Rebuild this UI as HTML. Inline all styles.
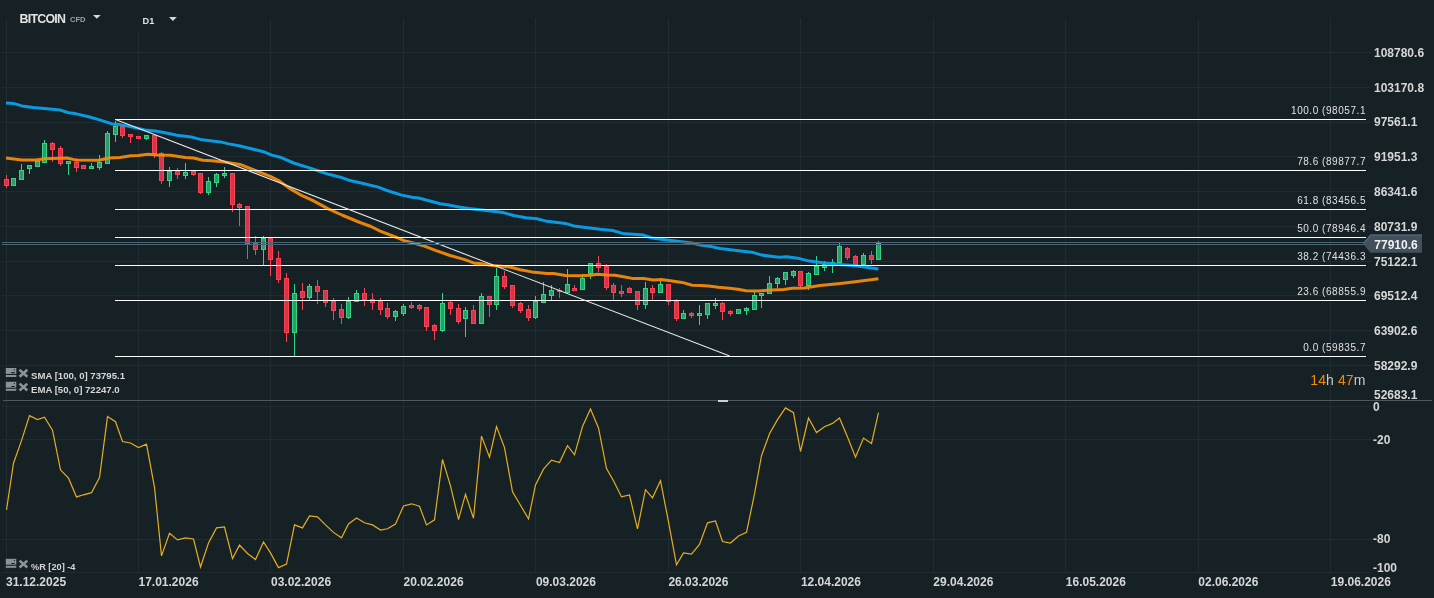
<!DOCTYPE html>
<html><head><meta charset="utf-8"><style>html,body{margin:0;padding:0;background:#162126;width:1434px;height:598px;overflow:hidden}</style></head>
<body><svg width="1434" height="598" viewBox="0 0 1434 598" style="display:block;will-change:transform"><rect x="0" y="0" width="1434" height="598" fill="#162126"/><rect x="6" y="18" width="1" height="554" fill="#212b31"/><rect x="138" y="32" width="1" height="540" fill="#212b31"/><rect x="270" y="18" width="1" height="554" fill="#212b31"/><rect x="403" y="18" width="1" height="554" fill="#212b31"/><rect x="535" y="18" width="1" height="554" fill="#212b31"/><rect x="668" y="18" width="1" height="554" fill="#212b31"/><rect x="800" y="18" width="1" height="554" fill="#212b31"/><rect x="933" y="18" width="1" height="554" fill="#212b31"/><rect x="1065" y="18" width="1" height="554" fill="#212b31"/><rect x="1198" y="18" width="1" height="554" fill="#212b31"/><rect x="1330" y="18" width="1" height="554" fill="#212b31"/><rect x="2" y="52" width="1370" height="1" fill="#212b31"/><rect x="2" y="87" width="1370" height="1" fill="#212b31"/><rect x="2" y="122" width="1370" height="1" fill="#212b31"/><rect x="2" y="156" width="1370" height="1" fill="#212b31"/><rect x="2" y="191" width="1370" height="1" fill="#212b31"/><rect x="2" y="226" width="1370" height="1" fill="#212b31"/><rect x="2" y="261" width="1370" height="1" fill="#212b31"/><rect x="2" y="295" width="1370" height="1" fill="#212b31"/><rect x="2" y="330" width="1370" height="1" fill="#212b31"/><rect x="2" y="365" width="1370" height="1" fill="#212b31"/><rect x="2" y="406" width="1370" height="1" fill="#212b31"/><rect x="2" y="439" width="1370" height="1" fill="#212b31"/><rect x="2" y="539" width="1370" height="1" fill="#212b31"/><rect x="2" y="572" width="1370" height="1" fill="#212b31"/><rect x="6" y="175" width="1" height="13" fill="#fc4153"/><rect x="4" y="179" width="5" height="7" fill="#fc4153"/><rect x="5" y="180" width="3" height="5" fill="#d5344a"/><rect x="13" y="178" width="1" height="8" fill="#34d486"/><rect x="11" y="178" width="5" height="8" fill="#34d486"/><rect x="12" y="179" width="3" height="6" fill="#2a9e66"/><rect x="21" y="164" width="1" height="16" fill="#34d486"/><rect x="19" y="170" width="5" height="10" fill="#34d486"/><rect x="20" y="171" width="3" height="8" fill="#2a9e66"/><rect x="29" y="165" width="1" height="9" fill="#34d486"/><rect x="27" y="165" width="5" height="4" fill="#34d486"/><rect x="28" y="166" width="3" height="2" fill="#2a9e66"/><rect x="37" y="161" width="1" height="6" fill="#34d486"/><rect x="35" y="161" width="5" height="6" fill="#34d486"/><rect x="36" y="162" width="3" height="4" fill="#2a9e66"/><rect x="44" y="140" width="1" height="23" fill="#34d486"/><rect x="42" y="143" width="5" height="20" fill="#34d486"/><rect x="43" y="144" width="3" height="18" fill="#2a9e66"/><rect x="52" y="142" width="1" height="20" fill="#fc4153"/><rect x="50" y="143" width="5" height="7" fill="#fc4153"/><rect x="51" y="144" width="3" height="5" fill="#d5344a"/><rect x="60" y="146" width="1" height="20" fill="#fc4153"/><rect x="58" y="148" width="5" height="16" fill="#fc4153"/><rect x="59" y="149" width="3" height="14" fill="#d5344a"/><rect x="68" y="161" width="1" height="14" fill="#34d486"/><rect x="66" y="161" width="5" height="3" fill="#34d486"/><rect x="67" y="162" width="3" height="1" fill="#2a9e66"/><rect x="76" y="158" width="1" height="14" fill="#fc4153"/><rect x="74" y="162" width="5" height="6" fill="#fc4153"/><rect x="75" y="163" width="3" height="4" fill="#d5344a"/><rect x="83" y="165" width="1" height="4" fill="#fc4153"/><rect x="81" y="165" width="5" height="4" fill="#fc4153"/><rect x="82" y="166" width="3" height="2" fill="#d5344a"/><rect x="91" y="163" width="1" height="6" fill="#34d486"/><rect x="89" y="166" width="5" height="3" fill="#34d486"/><rect x="90" y="167" width="3" height="1" fill="#2a9e66"/><rect x="99" y="155" width="1" height="15" fill="#34d486"/><rect x="97" y="162" width="5" height="6" fill="#34d486"/><rect x="98" y="163" width="3" height="4" fill="#2a9e66"/><rect x="107" y="131" width="1" height="33" fill="#34d486"/><rect x="105" y="133" width="5" height="31" fill="#34d486"/><rect x="106" y="134" width="3" height="29" fill="#2a9e66"/><rect x="115" y="121" width="1" height="21" fill="#34d486"/><rect x="113" y="126" width="5" height="9" fill="#34d486"/><rect x="114" y="127" width="3" height="7" fill="#2a9e66"/><rect x="122" y="126" width="1" height="12" fill="#fc4153"/><rect x="120" y="126" width="5" height="10" fill="#fc4153"/><rect x="121" y="127" width="3" height="8" fill="#d5344a"/><rect x="130" y="134" width="1" height="9" fill="#fc4153"/><rect x="128" y="134" width="5" height="3" fill="#fc4153"/><rect x="129" y="135" width="3" height="1" fill="#d5344a"/><rect x="138" y="136" width="1" height="3" fill="#fc4153"/><rect x="136" y="136" width="5" height="3" fill="#fc4153"/><rect x="137" y="137" width="3" height="1" fill="#d5344a"/><rect x="146" y="135" width="1" height="5" fill="#34d486"/><rect x="144" y="135" width="5" height="4" fill="#34d486"/><rect x="145" y="136" width="3" height="2" fill="#2a9e66"/><rect x="154" y="135" width="1" height="23" fill="#fc4153"/><rect x="152" y="135" width="5" height="19" fill="#fc4153"/><rect x="153" y="136" width="3" height="17" fill="#d5344a"/><rect x="161" y="152" width="1" height="32" fill="#fc4153"/><rect x="159" y="153" width="5" height="28" fill="#fc4153"/><rect x="160" y="154" width="3" height="26" fill="#d5344a"/><rect x="169" y="167" width="1" height="20" fill="#34d486"/><rect x="167" y="171" width="5" height="10" fill="#34d486"/><rect x="168" y="172" width="3" height="8" fill="#2a9e66"/><rect x="177" y="168" width="1" height="11" fill="#fc4153"/><rect x="175" y="171" width="5" height="4" fill="#fc4153"/><rect x="176" y="172" width="3" height="2" fill="#d5344a"/><rect x="185" y="163" width="1" height="16" fill="#34d486"/><rect x="183" y="172" width="5" height="4" fill="#34d486"/><rect x="184" y="173" width="3" height="2" fill="#2a9e66"/><rect x="193" y="171" width="1" height="5" fill="#fc4153"/><rect x="191" y="171" width="5" height="4" fill="#fc4153"/><rect x="192" y="172" width="3" height="2" fill="#d5344a"/><rect x="200" y="173" width="1" height="21" fill="#fc4153"/><rect x="198" y="173" width="5" height="20" fill="#fc4153"/><rect x="199" y="174" width="3" height="18" fill="#d5344a"/><rect x="208" y="177" width="1" height="18" fill="#34d486"/><rect x="206" y="181" width="5" height="12" fill="#34d486"/><rect x="207" y="182" width="3" height="10" fill="#2a9e66"/><rect x="216" y="173" width="1" height="14" fill="#34d486"/><rect x="214" y="174" width="5" height="9" fill="#34d486"/><rect x="215" y="175" width="3" height="7" fill="#2a9e66"/><rect x="224" y="167" width="1" height="11" fill="#34d486"/><rect x="222" y="173" width="5" height="3" fill="#34d486"/><rect x="223" y="174" width="3" height="1" fill="#2a9e66"/><rect x="232" y="173" width="1" height="39" fill="#fc4153"/><rect x="230" y="173" width="5" height="32" fill="#fc4153"/><rect x="231" y="174" width="3" height="30" fill="#d5344a"/><rect x="239" y="203" width="1" height="23" fill="#fc4153"/><rect x="237" y="204" width="5" height="4" fill="#fc4153"/><rect x="238" y="205" width="3" height="2" fill="#d5344a"/><rect x="247" y="206" width="1" height="53" fill="#fc4153"/><rect x="245" y="206" width="5" height="38" fill="#fc4153"/><rect x="246" y="207" width="3" height="36" fill="#d5344a"/><rect x="255" y="236" width="1" height="19" fill="#fc4153"/><rect x="253" y="243" width="5" height="7" fill="#fc4153"/><rect x="254" y="244" width="3" height="5" fill="#d5344a"/><rect x="263" y="236" width="1" height="29" fill="#34d486"/><rect x="261" y="238" width="5" height="12" fill="#34d486"/><rect x="262" y="239" width="3" height="10" fill="#2a9e66"/><rect x="270" y="238" width="1" height="38" fill="#fc4153"/><rect x="268" y="238" width="5" height="22" fill="#fc4153"/><rect x="269" y="239" width="3" height="20" fill="#d5344a"/><rect x="278" y="251" width="1" height="32" fill="#fc4153"/><rect x="276" y="258" width="5" height="22" fill="#fc4153"/><rect x="277" y="259" width="3" height="20" fill="#d5344a"/><rect x="286" y="273" width="1" height="69" fill="#fc4153"/><rect x="284" y="278" width="5" height="55" fill="#fc4153"/><rect x="285" y="279" width="3" height="53" fill="#d5344a"/><rect x="294" y="284" width="1" height="72" fill="#34d486"/><rect x="292" y="293" width="5" height="40" fill="#34d486"/><rect x="293" y="294" width="3" height="38" fill="#2a9e66"/><rect x="302" y="283" width="1" height="27" fill="#fc4153"/><rect x="300" y="291" width="5" height="7" fill="#fc4153"/><rect x="301" y="292" width="3" height="5" fill="#d5344a"/><rect x="309" y="284" width="1" height="16" fill="#34d486"/><rect x="307" y="286" width="5" height="12" fill="#34d486"/><rect x="308" y="287" width="3" height="10" fill="#2a9e66"/><rect x="317" y="280" width="1" height="24" fill="#fc4153"/><rect x="315" y="286" width="5" height="6" fill="#fc4153"/><rect x="316" y="287" width="3" height="4" fill="#d5344a"/><rect x="325" y="290" width="1" height="17" fill="#fc4153"/><rect x="323" y="290" width="5" height="13" fill="#fc4153"/><rect x="324" y="291" width="3" height="11" fill="#d5344a"/><rect x="333" y="298" width="1" height="22" fill="#fc4153"/><rect x="331" y="301" width="5" height="10" fill="#fc4153"/><rect x="332" y="302" width="3" height="8" fill="#d5344a"/><rect x="341" y="304" width="1" height="20" fill="#fc4153"/><rect x="339" y="309" width="5" height="9" fill="#fc4153"/><rect x="340" y="310" width="3" height="7" fill="#d5344a"/><rect x="348" y="297" width="1" height="22" fill="#34d486"/><rect x="346" y="301" width="5" height="17" fill="#34d486"/><rect x="347" y="302" width="3" height="15" fill="#2a9e66"/><rect x="356" y="290" width="1" height="12" fill="#34d486"/><rect x="354" y="293" width="5" height="9" fill="#34d486"/><rect x="355" y="294" width="3" height="7" fill="#2a9e66"/><rect x="364" y="288" width="1" height="18" fill="#fc4153"/><rect x="362" y="293" width="5" height="7" fill="#fc4153"/><rect x="363" y="294" width="3" height="5" fill="#d5344a"/><rect x="372" y="293" width="1" height="17" fill="#fc4153"/><rect x="370" y="299" width="5" height="4" fill="#fc4153"/><rect x="371" y="300" width="3" height="2" fill="#d5344a"/><rect x="380" y="298" width="1" height="17" fill="#fc4153"/><rect x="378" y="301" width="5" height="9" fill="#fc4153"/><rect x="379" y="302" width="3" height="7" fill="#d5344a"/><rect x="387" y="303" width="1" height="16" fill="#fc4153"/><rect x="385" y="308" width="5" height="9" fill="#fc4153"/><rect x="386" y="309" width="3" height="7" fill="#d5344a"/><rect x="395" y="310" width="1" height="11" fill="#34d486"/><rect x="393" y="311" width="5" height="6" fill="#34d486"/><rect x="394" y="312" width="3" height="4" fill="#2a9e66"/><rect x="403" y="304" width="1" height="12" fill="#34d486"/><rect x="401" y="306" width="5" height="8" fill="#34d486"/><rect x="402" y="307" width="3" height="6" fill="#2a9e66"/><rect x="411" y="302" width="1" height="7" fill="#fc4153"/><rect x="409" y="305" width="5" height="3" fill="#fc4153"/><rect x="410" y="306" width="3" height="1" fill="#d5344a"/><rect x="419" y="304" width="1" height="7" fill="#fc4153"/><rect x="417" y="305" width="5" height="4" fill="#fc4153"/><rect x="418" y="306" width="3" height="2" fill="#d5344a"/><rect x="426" y="307" width="1" height="24" fill="#fc4153"/><rect x="424" y="307" width="5" height="20" fill="#fc4153"/><rect x="425" y="308" width="3" height="18" fill="#d5344a"/><rect x="434" y="324" width="1" height="16" fill="#fc4153"/><rect x="432" y="325" width="5" height="6" fill="#fc4153"/><rect x="433" y="326" width="3" height="4" fill="#d5344a"/><rect x="442" y="293" width="1" height="39" fill="#34d486"/><rect x="440" y="303" width="5" height="28" fill="#34d486"/><rect x="441" y="304" width="3" height="26" fill="#2a9e66"/><rect x="450" y="301" width="1" height="14" fill="#fc4153"/><rect x="448" y="302" width="5" height="7" fill="#fc4153"/><rect x="449" y="303" width="3" height="5" fill="#d5344a"/><rect x="458" y="304" width="1" height="20" fill="#fc4153"/><rect x="456" y="308" width="5" height="14" fill="#fc4153"/><rect x="457" y="309" width="3" height="12" fill="#d5344a"/><rect x="465" y="307" width="1" height="30" fill="#34d486"/><rect x="463" y="310" width="5" height="9" fill="#34d486"/><rect x="464" y="311" width="3" height="7" fill="#2a9e66"/><rect x="473" y="305" width="1" height="19" fill="#fc4153"/><rect x="471" y="310" width="5" height="14" fill="#fc4153"/><rect x="472" y="311" width="3" height="12" fill="#d5344a"/><rect x="481" y="293" width="1" height="31" fill="#34d486"/><rect x="479" y="296" width="5" height="28" fill="#34d486"/><rect x="480" y="297" width="3" height="26" fill="#2a9e66"/><rect x="489" y="296" width="1" height="21" fill="#fc4153"/><rect x="487" y="296" width="5" height="9" fill="#fc4153"/><rect x="488" y="297" width="3" height="7" fill="#d5344a"/><rect x="496" y="268" width="1" height="42" fill="#34d486"/><rect x="494" y="276" width="5" height="29" fill="#34d486"/><rect x="495" y="277" width="3" height="27" fill="#2a9e66"/><rect x="504" y="271" width="1" height="18" fill="#fc4153"/><rect x="502" y="276" width="5" height="11" fill="#fc4153"/><rect x="503" y="277" width="3" height="9" fill="#d5344a"/><rect x="512" y="285" width="1" height="23" fill="#fc4153"/><rect x="510" y="285" width="5" height="21" fill="#fc4153"/><rect x="511" y="286" width="3" height="19" fill="#d5344a"/><rect x="520" y="302" width="1" height="11" fill="#fc4153"/><rect x="518" y="303" width="5" height="8" fill="#fc4153"/><rect x="519" y="304" width="3" height="6" fill="#d5344a"/><rect x="528" y="305" width="1" height="16" fill="#fc4153"/><rect x="526" y="309" width="5" height="9" fill="#fc4153"/><rect x="527" y="310" width="3" height="7" fill="#d5344a"/><rect x="535" y="296" width="1" height="23" fill="#34d486"/><rect x="533" y="301" width="5" height="17" fill="#34d486"/><rect x="534" y="302" width="3" height="15" fill="#2a9e66"/><rect x="543" y="282" width="1" height="21" fill="#34d486"/><rect x="541" y="294" width="5" height="9" fill="#34d486"/><rect x="542" y="295" width="3" height="7" fill="#2a9e66"/><rect x="551" y="285" width="1" height="15" fill="#34d486"/><rect x="549" y="290" width="5" height="6" fill="#34d486"/><rect x="550" y="291" width="3" height="4" fill="#2a9e66"/><rect x="559" y="288" width="1" height="10" fill="#fc4153"/><rect x="557" y="290" width="5" height="2" fill="#fc4153"/><rect x="567" y="269" width="1" height="24" fill="#34d486"/><rect x="565" y="284" width="5" height="9" fill="#34d486"/><rect x="566" y="285" width="3" height="7" fill="#2a9e66"/><rect x="574" y="285" width="1" height="6" fill="#fc4153"/><rect x="572" y="288" width="5" height="3" fill="#fc4153"/><rect x="573" y="289" width="3" height="1" fill="#d5344a"/><rect x="582" y="274" width="1" height="16" fill="#34d486"/><rect x="580" y="278" width="5" height="12" fill="#34d486"/><rect x="581" y="279" width="3" height="10" fill="#2a9e66"/><rect x="590" y="263" width="1" height="16" fill="#34d486"/><rect x="588" y="263" width="5" height="11" fill="#34d486"/><rect x="589" y="264" width="3" height="9" fill="#2a9e66"/><rect x="598" y="256" width="1" height="16" fill="#fc4153"/><rect x="596" y="263" width="5" height="5" fill="#fc4153"/><rect x="597" y="264" width="3" height="3" fill="#d5344a"/><rect x="606" y="264" width="1" height="26" fill="#fc4153"/><rect x="604" y="266" width="5" height="22" fill="#fc4153"/><rect x="605" y="267" width="3" height="20" fill="#d5344a"/><rect x="613" y="283" width="1" height="17" fill="#fc4153"/><rect x="611" y="285" width="5" height="8" fill="#fc4153"/><rect x="612" y="286" width="3" height="6" fill="#d5344a"/><rect x="621" y="285" width="1" height="12" fill="#fc4153"/><rect x="619" y="291" width="5" height="3" fill="#fc4153"/><rect x="620" y="292" width="3" height="1" fill="#d5344a"/><rect x="629" y="287" width="1" height="6" fill="#fc4153"/><rect x="627" y="288" width="5" height="5" fill="#fc4153"/><rect x="628" y="289" width="3" height="3" fill="#d5344a"/><rect x="637" y="291" width="1" height="19" fill="#fc4153"/><rect x="635" y="291" width="5" height="14" fill="#fc4153"/><rect x="636" y="292" width="3" height="12" fill="#d5344a"/><rect x="645" y="282" width="1" height="27" fill="#34d486"/><rect x="643" y="288" width="5" height="17" fill="#34d486"/><rect x="644" y="289" width="3" height="15" fill="#2a9e66"/><rect x="652" y="285" width="1" height="15" fill="#fc4153"/><rect x="650" y="288" width="5" height="5" fill="#fc4153"/><rect x="651" y="289" width="3" height="3" fill="#d5344a"/><rect x="660" y="281" width="1" height="12" fill="#34d486"/><rect x="658" y="284" width="5" height="9" fill="#34d486"/><rect x="659" y="285" width="3" height="7" fill="#2a9e66"/><rect x="668" y="284" width="1" height="21" fill="#fc4153"/><rect x="666" y="284" width="5" height="18" fill="#fc4153"/><rect x="667" y="285" width="3" height="16" fill="#d5344a"/><rect x="676" y="299" width="1" height="22" fill="#fc4153"/><rect x="674" y="301" width="5" height="18" fill="#fc4153"/><rect x="675" y="302" width="3" height="16" fill="#d5344a"/><rect x="683" y="310" width="1" height="9" fill="#34d486"/><rect x="681" y="313" width="5" height="6" fill="#34d486"/><rect x="682" y="314" width="3" height="4" fill="#2a9e66"/><rect x="691" y="312" width="1" height="6" fill="#fc4153"/><rect x="689" y="313" width="5" height="3" fill="#fc4153"/><rect x="690" y="314" width="3" height="1" fill="#d5344a"/><rect x="699" y="305" width="1" height="20" fill="#34d486"/><rect x="697" y="313" width="5" height="3" fill="#34d486"/><rect x="698" y="314" width="3" height="1" fill="#2a9e66"/><rect x="707" y="303" width="1" height="16" fill="#34d486"/><rect x="705" y="303" width="5" height="12" fill="#34d486"/><rect x="706" y="304" width="3" height="10" fill="#2a9e66"/><rect x="715" y="298" width="1" height="11" fill="#34d486"/><rect x="713" y="303" width="5" height="3" fill="#34d486"/><rect x="714" y="304" width="3" height="1" fill="#2a9e66"/><rect x="722" y="302" width="1" height="18" fill="#fc4153"/><rect x="720" y="303" width="5" height="9" fill="#fc4153"/><rect x="721" y="304" width="3" height="7" fill="#d5344a"/><rect x="730" y="310" width="1" height="6" fill="#fc4153"/><rect x="728" y="311" width="5" height="3" fill="#fc4153"/><rect x="729" y="312" width="3" height="1" fill="#d5344a"/><rect x="738" y="309" width="1" height="5" fill="#34d486"/><rect x="736" y="309" width="5" height="5" fill="#34d486"/><rect x="737" y="310" width="3" height="3" fill="#2a9e66"/><rect x="746" y="307" width="1" height="8" fill="#34d486"/><rect x="744" y="308" width="5" height="3" fill="#34d486"/><rect x="745" y="309" width="3" height="1" fill="#2a9e66"/><rect x="754" y="292" width="1" height="18" fill="#34d486"/><rect x="752" y="295" width="5" height="15" fill="#34d486"/><rect x="753" y="296" width="3" height="13" fill="#2a9e66"/><rect x="761" y="293" width="1" height="15" fill="#34d486"/><rect x="759" y="293" width="5" height="3" fill="#34d486"/><rect x="760" y="294" width="3" height="1" fill="#2a9e66"/><rect x="769" y="276" width="1" height="18" fill="#34d486"/><rect x="767" y="283" width="5" height="11" fill="#34d486"/><rect x="768" y="284" width="3" height="9" fill="#2a9e66"/><rect x="777" y="277" width="1" height="11" fill="#34d486"/><rect x="775" y="278" width="5" height="6" fill="#34d486"/><rect x="776" y="279" width="3" height="4" fill="#2a9e66"/><rect x="785" y="272" width="1" height="13" fill="#34d486"/><rect x="783" y="272" width="5" height="8" fill="#34d486"/><rect x="784" y="273" width="3" height="6" fill="#2a9e66"/><rect x="793" y="270" width="1" height="8" fill="#34d486"/><rect x="791" y="271" width="5" height="5" fill="#34d486"/><rect x="792" y="272" width="3" height="3" fill="#2a9e66"/><rect x="800" y="271" width="1" height="17" fill="#fc4153"/><rect x="798" y="271" width="5" height="15" fill="#fc4153"/><rect x="799" y="272" width="3" height="13" fill="#d5344a"/><rect x="808" y="272" width="1" height="18" fill="#34d486"/><rect x="806" y="273" width="5" height="13" fill="#34d486"/><rect x="807" y="274" width="3" height="11" fill="#2a9e66"/><rect x="816" y="256" width="1" height="19" fill="#34d486"/><rect x="814" y="266" width="5" height="9" fill="#34d486"/><rect x="815" y="267" width="3" height="7" fill="#2a9e66"/><rect x="824" y="261" width="1" height="10" fill="#34d486"/><rect x="822" y="264" width="5" height="4" fill="#34d486"/><rect x="823" y="265" width="3" height="2" fill="#2a9e66"/><rect x="832" y="259" width="1" height="14" fill="#34d486"/><rect x="830" y="262" width="5" height="2" fill="#34d486"/><rect x="839" y="243" width="1" height="20" fill="#34d486"/><rect x="837" y="246" width="5" height="17" fill="#34d486"/><rect x="838" y="247" width="3" height="15" fill="#2a9e66"/><rect x="847" y="247" width="1" height="13" fill="#fc4153"/><rect x="845" y="248" width="5" height="10" fill="#fc4153"/><rect x="846" y="249" width="3" height="8" fill="#d5344a"/><rect x="855" y="255" width="1" height="10" fill="#fc4153"/><rect x="853" y="256" width="5" height="9" fill="#fc4153"/><rect x="854" y="257" width="3" height="7" fill="#d5344a"/><rect x="863" y="253" width="1" height="12" fill="#34d486"/><rect x="861" y="255" width="5" height="10" fill="#34d486"/><rect x="862" y="256" width="3" height="8" fill="#2a9e66"/><rect x="871" y="251" width="1" height="13" fill="#fc4153"/><rect x="869" y="255" width="5" height="5" fill="#fc4153"/><rect x="870" y="256" width="3" height="3" fill="#d5344a"/><rect x="878" y="241" width="1" height="19" fill="#34d486"/><rect x="876" y="243" width="5" height="17" fill="#34d486"/><rect x="877" y="244" width="3" height="15" fill="#2a9e66"/><polyline points="6.0,103.1 13.4,103.4 21.8,105.9 33.5,107.6 60.3,110.1 68.6,112.7 75.3,113.6 88.7,116.8 100.4,120.1 112.1,123.9 120.0,124.6 132.6,127.1 145.1,129.9 155.1,130.9 165.2,132.7 176.9,135.3 191.1,136.9 200.3,139.4 220.4,141.9 228.8,143.9 240.0,146.0 263.4,151.7 271.8,155.1 280.2,157.2 293.6,163.0 308.6,167.6 318.7,171.0 328.7,174.3 340.4,177.2 348.8,180.2 360.0,182.8 378.4,187.1 386.8,190.5 401.8,195.1 411.9,197.2 418.6,198.0 440.3,203.8 448.7,205.1 458.7,206.9 468.8,208.5 480.0,209.8 503.4,212.6 513.5,215.5 526.0,217.7 536.9,218.8 545.3,220.9 565.4,223.4 573.7,225.9 600.0,229.3 612.6,230.5 622.6,233.4 643.5,235.1 651.9,238.0 666.9,240.1 692.1,243.0 700.4,245.1 711.3,246.6 720.0,248.5 736.7,250.5 753.5,252.6 761.8,255.1 778.6,257.2 786.9,256.7 799.5,258.6 809.5,261.1 824.6,262.9 840.0,264.5 853.2,265.6 868.2,267.4 878.4,269.0" fill="none" stroke="#0aa4f0" stroke-width="3" stroke-linejoin="round" stroke-linecap="butt" stroke-opacity="0.93"/><polyline points="6.0,158.0 21.8,160.1 36.0,159.9 44.4,158.8 66.9,158.0 75.3,159.9 98.7,160.3 108.8,158.0 120.0,157.4 130.9,155.7 138.4,155.5 147.6,154.2 157.7,154.9 170.2,155.2 185.3,157.6 193.6,158.0 202.8,160.3 212.0,160.8 224.6,161.9 240.0,164.4 255.2,170.5 270.4,176.4 278.6,180.5 289.2,188.1 302.1,195.7 312.6,200.4 327.8,208.6 341.9,215.0 360.0,222.5 371.0,226.5 380.2,231.1 396.8,237.5 404.1,240.7 415.2,243.5 424.4,246.1 435.4,250.4 450.1,255.5 464.8,259.6 474.9,263.3 480.0,263.5 492.6,265.5 511.0,267.2 520.2,269.7 531.9,271.9 546.9,273.4 553.6,273.4 565.4,275.5 580.4,275.8 590.0,275.3 597.5,274.2 606.7,275.1 615.1,275.2 623.5,276.7 633.5,278.6 643.6,278.6 653.6,279.9 661.1,279.4 670.3,280.8 682.1,282.4 692.1,285.3 701.3,285.6 708.4,285.9 718.4,287.2 729.3,288.2 737.7,289.2 746.0,290.8 758.6,290.9 771.1,290.1 783.7,289.4 792.0,288.2 804.6,288.0 820.0,285.5 838.1,283.7 853.2,281.9 878.4,278.7" fill="none" stroke="#f78c0a" stroke-width="3" stroke-linejoin="round" stroke-linecap="butt" stroke-opacity="0.93"/><rect x="115" y="119" width="1251" height="1" fill="#ffffff"/><rect x="115" y="170" width="1251" height="1" fill="#ffffff"/><rect x="115" y="209" width="1251" height="1" fill="#ffffff"/><rect x="115" y="237" width="1251" height="1" fill="#ffffff"/><rect x="115" y="265" width="1251" height="1" fill="#ffffff"/><rect x="115" y="300" width="1251" height="1" fill="#ffffff"/><rect x="115" y="356" width="1251" height="1" fill="#ffffff"/><line x1="115.5" y1="119.6" x2="729.7" y2="356.1" stroke="#e8e8e8" stroke-width="1.1"/><rect x="2" y="242" width="1364" height="1" fill="#4a6474"/><rect x="2" y="244" width="1364" height="1" fill="#4a6474"/><text x="1366" y="114.0" text-anchor="end" font-size="10" letter-spacing="0.55" fill="#e0e0e0" font-family="Liberation Sans">100.0 (98057.1</text><text x="1366" y="165.0" text-anchor="end" font-size="10" letter-spacing="0.55" fill="#e0e0e0" font-family="Liberation Sans">78.6 (89877.7</text><text x="1366" y="204.0" text-anchor="end" font-size="10" letter-spacing="0.55" fill="#e0e0e0" font-family="Liberation Sans">61.8 (83456.5</text><text x="1366" y="232.0" text-anchor="end" font-size="10" letter-spacing="0.55" fill="#e0e0e0" font-family="Liberation Sans">50.0 (78946.4</text><text x="1366" y="259.8" text-anchor="end" font-size="10" letter-spacing="0.55" fill="#e0e0e0" font-family="Liberation Sans">38.2 (74436.3</text><text x="1366" y="294.9" text-anchor="end" font-size="10" letter-spacing="0.55" fill="#e0e0e0" font-family="Liberation Sans">23.6 (68855.9</text><text x="1366" y="350.8" text-anchor="end" font-size="10" letter-spacing="0.55" fill="#e0e0e0" font-family="Liberation Sans">0.0 (59835.7</text><rect x="3" y="400" width="1429" height="1" fill="#4d5862"/><rect x="718" y="400" width="10" height="2" fill="#cfcfcf"/><polyline points="6.5,509.9 13.5,463.2 21.5,440.6 29.5,415.6 37.5,419.6 44.5,417.2 52.5,430.1 60.5,469.8 68.5,478.2 76.5,496.9 83.5,494.8 91.5,492.7 99.5,477.6 107.5,416.6 115.5,421.7 122.5,441.5 130.5,443.0 138.5,447.6 146.5,444.2 154.5,487.3 161.5,555.9 169.5,533.3 177.5,539.9 185.5,537.8 193.5,539.0 200.5,567.0 208.5,543.0 216.5,527.9 224.5,527.0 232.5,558.6 239.5,545.1 247.5,553.5 255.5,559.5 263.5,542.0 270.5,552.9 278.5,567.6 286.5,564.0 294.5,524.9 302.5,527.9 309.5,515.9 317.5,516.8 325.5,524.9 333.5,532.4 341.5,537.8 348.5,524.0 356.5,518.0 364.5,522.8 372.5,524.9 380.5,530.0 387.5,528.8 395.5,524.0 403.5,505.9 411.5,503.8 419.5,506.3 426.5,524.9 434.5,519.8 442.5,459.3 450.5,485.8 458.5,519.5 465.5,494.2 473.5,518.3 481.5,436.1 489.5,457.2 496.5,426.5 504.5,447.6 512.5,491.8 520.5,505.3 528.5,518.9 535.5,484.9 543.5,469.2 551.5,460.2 559.5,462.6 567.5,445.7 574.5,454.8 582.5,426.5 590.5,409.0 598.5,428.0 606.5,468.6 613.5,480.7 621.5,496.9 629.5,495.0 637.5,528.8 645.5,489.7 652.5,497.8 660.5,480.7 668.5,521.9 676.5,564.9 683.5,552.9 691.5,554.1 699.5,544.5 707.5,522.8 715.5,521.0 722.5,541.5 730.5,543.0 738.5,536.0 746.5,532.4 754.5,493.9 761.5,455.7 769.5,433.7 777.5,419.6 785.5,407.9 793.5,412.7 800.5,451.5 808.5,418.0 816.5,432.6 824.5,426.7 832.5,423.4 839.5,418.0 847.5,437.0 855.5,457.2 863.5,438.1 871.5,443.4 878.5,412.7" fill="none" stroke="#e5ad22" stroke-width="1.2" stroke-linejoin="miter"/><text x="1374" y="56.8" font-size="12" font-weight="bold" fill="#d6d6d6" font-family="Liberation Sans">108780.6</text><text x="1374" y="91.6" font-size="12" font-weight="bold" fill="#d6d6d6" font-family="Liberation Sans">103170.8</text><text x="1374" y="126.4" font-size="12" font-weight="bold" fill="#d6d6d6" font-family="Liberation Sans">97561.1</text><text x="1374" y="161.1" font-size="12" font-weight="bold" fill="#d6d6d6" font-family="Liberation Sans">91951.3</text><text x="1374" y="195.9" font-size="12" font-weight="bold" fill="#d6d6d6" font-family="Liberation Sans">86341.6</text><text x="1374" y="230.7" font-size="12" font-weight="bold" fill="#d6d6d6" font-family="Liberation Sans">80731.9</text><text x="1374" y="265.5" font-size="12" font-weight="bold" fill="#d6d6d6" font-family="Liberation Sans">75122.1</text><text x="1374" y="300.2" font-size="12" font-weight="bold" fill="#d6d6d6" font-family="Liberation Sans">69512.4</text><text x="1374" y="335.0" font-size="12" font-weight="bold" fill="#d6d6d6" font-family="Liberation Sans">63902.6</text><text x="1374" y="369.8" font-size="12" font-weight="bold" fill="#d6d6d6" font-family="Liberation Sans">58292.9</text><text x="1374" y="398.5" font-size="12" font-weight="bold" fill="#d6d6d6" font-family="Liberation Sans">52683.1</text><text x="1373" y="410.8" font-size="12" font-weight="bold" fill="#d6d6d6" font-family="Liberation Sans">0</text><text x="1373" y="443.9" font-size="12" font-weight="bold" fill="#d6d6d6" font-family="Liberation Sans">-20</text><text x="1373" y="543.4" font-size="12" font-weight="bold" fill="#d6d6d6" font-family="Liberation Sans">-80</text><text x="1373" y="572" font-size="12" font-weight="bold" fill="#d6d6d6" font-family="Liberation Sans">-100</text><polygon points="1363,243.6 1370.4,234.4 1422,234.4 1422,252.7 1370.4,252.7" fill="#42515b"/><polyline points="1363.6,243.3 1370.8,235.2 1422,235.2" fill="none" stroke="#4a6474" stroke-width="1.6"/><text x="1374.3" y="248.8" font-size="12" font-weight="bold" fill="#f0f0f0" font-family="Liberation Sans">77910.6</text><text x="6.0" y="585.7" font-size="12" font-weight="bold" fill="#d6d6d6" font-family="Liberation Sans">31.12.2025</text><text x="138.5" y="585.7" font-size="12" font-weight="bold" fill="#d6d6d6" font-family="Liberation Sans">17.01.2026</text><text x="271.0" y="585.7" font-size="12" font-weight="bold" fill="#d6d6d6" font-family="Liberation Sans">03.02.2026</text><text x="403.5" y="585.7" font-size="12" font-weight="bold" fill="#d6d6d6" font-family="Liberation Sans">20.02.2026</text><text x="535.9" y="585.7" font-size="12" font-weight="bold" fill="#d6d6d6" font-family="Liberation Sans">09.03.2026</text><text x="668.4" y="585.7" font-size="12" font-weight="bold" fill="#d6d6d6" font-family="Liberation Sans">26.03.2026</text><text x="800.9" y="585.7" font-size="12" font-weight="bold" fill="#d6d6d6" font-family="Liberation Sans">12.04.2026</text><text x="933.3" y="585.7" font-size="12" font-weight="bold" fill="#d6d6d6" font-family="Liberation Sans">29.04.2026</text><text x="1065.8" y="585.7" font-size="12" font-weight="bold" fill="#d6d6d6" font-family="Liberation Sans">16.05.2026</text><text x="1198.3" y="585.7" font-size="12" font-weight="bold" fill="#d6d6d6" font-family="Liberation Sans">02.06.2026</text><text x="1330.8" y="585.7" font-size="12" font-weight="bold" fill="#d6d6d6" font-family="Liberation Sans">19.06.2026</text><text x="1310.3" y="384.9" font-size="14" letter-spacing="0.1" font-family="Liberation Sans"><tspan fill="#f28a0a">14</tspan><tspan fill="#c8c8c8">h </tspan><tspan fill="#f28a0a">47</tspan><tspan fill="#c8c8c8">m</tspan></text><rect x="5.8" y="368.0" width="10.5" height="5.9" fill="#8c9398"/><rect x="11.2" y="372.09999999999997" width="3.6" height="1.1" rx="0.5" fill="#162126"/><rect x="13.8" y="369.29999999999995" width="1.2" height="1" fill="#162126"/><rect x="5.8" y="375.0" width="10.5" height="2" fill="#8c9398"/><path d="M20.5,370.7 L26.3,375.79999999999995 M26.3,370.7 L20.5,375.79999999999995" stroke="#8c9398" stroke-width="2.6" stroke-linecap="square"/><text x="31" y="379.2" font-size="9.6" font-weight="bold" fill="#d6d6d6" font-family="Liberation Sans">SMA [100, 0] 73795.1</text><rect x="5.8" y="381.8" width="10.5" height="5.9" fill="#8c9398"/><rect x="11.2" y="385.9" width="3.6" height="1.1" rx="0.5" fill="#162126"/><rect x="13.8" y="383.09999999999997" width="1.2" height="1" fill="#162126"/><rect x="5.8" y="388.8" width="10.5" height="2" fill="#8c9398"/><path d="M20.5,384.5 L26.3,389.59999999999997 M26.3,384.5 L20.5,389.59999999999997" stroke="#8c9398" stroke-width="2.6" stroke-linecap="square"/><text x="31" y="393" font-size="9.6" font-weight="bold" fill="#d6d6d6" font-family="Liberation Sans">EMA [50, 0] 72247.0</text><rect x="5.8" y="558.8000000000001" width="10.5" height="5.9" fill="#8c9398"/><rect x="11.2" y="562.9000000000001" width="3.6" height="1.1" rx="0.5" fill="#162126"/><rect x="13.8" y="560.1" width="1.2" height="1" fill="#162126"/><rect x="5.8" y="565.8000000000001" width="10.5" height="2" fill="#8c9398"/><path d="M20.5,561.5 L26.3,566.6 M26.3,561.5 L20.5,566.6" stroke="#8c9398" stroke-width="2.6" stroke-linecap="square"/><text x="31" y="569.6" font-size="9.2" font-weight="bold" fill="#d6d6d6" font-family="Liberation Sans">%R [20] -4</text><text x="19.6" y="23" font-size="12.4" font-weight="bold" letter-spacing="-0.78" fill="#e2e2e2" font-family="Liberation Sans">BITCOIN</text><text x="70" y="22" font-size="7.6" font-weight="bold" fill="#9aa3aa" font-family="Liberation Sans">CFD</text><polygon points="93,15 100.7,15 96.85,18.8" fill="#d8d8d8"/><text x="142.5" y="24" font-size="9.2" font-weight="bold" fill="#e2e2e2" font-family="Liberation Sans">D1</text><polygon points="169,17 176.8,17 172.9,21" fill="#d8d8d8"/></svg></body></html>
